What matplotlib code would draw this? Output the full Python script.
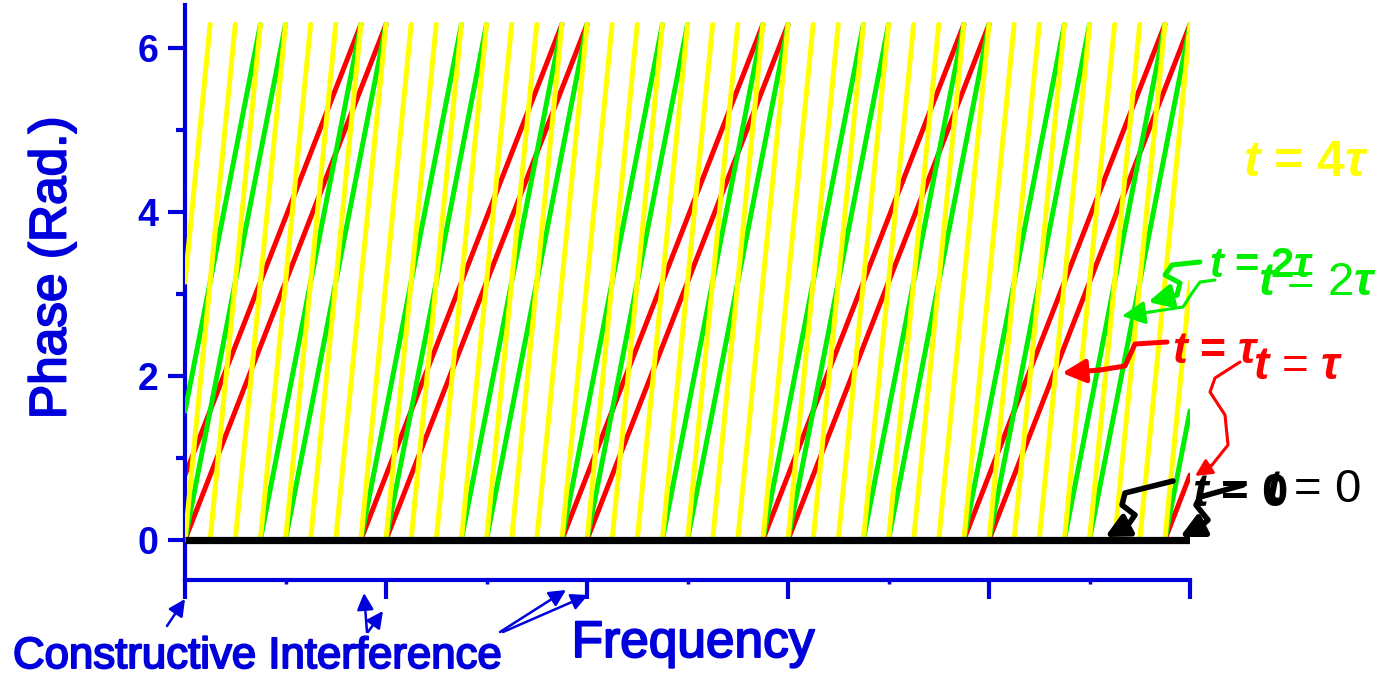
import numpy as np
import matplotlib
matplotlib.use('Agg')
import matplotlib.pyplot as plt
import matplotlib.patheffects as pe
from matplotlib.lines import Line2D
from matplotlib.patches import FancyArrowPatch
from matplotlib.ticker import MultipleLocator

# ---------- data ----------

TWO_PI = 2 * np.pi
F_MIN, F_MAX = 0.0, 5.0

# frequencies where each sawtooth drops back to phase 0
# second copy of every curve is shifted by 1/8 of a frequency unit
red_resets = [0, 1, 2, 3, 4]
red_resets_shift = [0.875, 1.875, 2.875, 3.875, 4.875]
green_resets = [0, 0.5, 1, 1.5, 2, 2.5, 3, 3.5, 4, 4.5]
green_resets_shift = [0.375, 0.875, 1.375, 1.875, 2.375, 2.875, 3.375, 3.875, 4.375, 4.875]
yellow_resets = [0, 0.25, 0.5, 0.75, 1, 1.25, 1.5, 1.75, 2, 2.25, 2.5, 2.75, 3, 3.25,
                 3.5, 3.75, 4, 4.25, 4.5, 4.75]
yellow_resets_shift = [0.125, 0.375, 0.625, 0.875, 1.125, 1.375, 1.625, 1.875, 2.125,
                       2.375, 2.625, 2.875, 3.125, 3.375, 3.625, 3.875, 4.125, 4.375,
                       4.625, 4.875]

# phase at the left / right edge of the axis for each copy
red_edges = (0.0, TWO_PI)
red_edges_shift = (0.79, 0.79)
green_edges = (0.0, TWO_PI)
green_edges_shift = (1.57, 1.57)
yellow_edges = (0.0, TWO_PI)
yellow_edges_shift = (3.14, 3.14)

black_freq = [0, 5]
black_phase = [0, 0]

BLUE = '#0000dc'
RED = '#ff0000'
GREEN = '#00ee00'
YELLOW = '#ffff00'
W, H = 1379, 675


def sawtooth(resets, edges):
    xs, ys = [F_MIN], [edges[0]]
    for r in resets:
        if r <= F_MIN:
            continue
        xs += [r, np.nan, r]
        ys += [TWO_PI, np.nan, 0.0]
    xs.append(F_MAX)
    ys.append(edges[1])
    return xs, ys


def px(x, y):
    return x / W, 1 - y / H


plt.rcParams['mathtext.fontset'] = 'custom'
plt.rcParams['mathtext.it'] = 'Liberation Sans:italic:bold'
plt.rcParams['mathtext.rm'] = 'Liberation Sans'

fig = plt.figure(figsize=(W / 100, H / 100), dpi=100)
ax = fig.add_axes([185 / W, 1 - 580 / H, 1005 / W, 575 / H])

lw = 3.6
for resets, edges, col, z in [(red_resets, red_edges, RED, 2),
                              (red_resets_shift, red_edges_shift, RED, 2),
                              (green_resets, green_edges, GREEN, 3),
                              (green_resets_shift, green_edges_shift, GREEN, 3),
                              (yellow_resets, yellow_edges, YELLOW, 4),
                              (yellow_resets_shift, yellow_edges_shift, YELLOW, 4)]:
    xs, ys = sawtooth(resets, edges)
    ax.plot(xs, ys, color=col, lw=lw, zorder=z, solid_capstyle='round')

ax.plot(black_freq, black_phase, color='black', lw=5.2, zorder=5, solid_capstyle='butt')

ax.set_xlim(F_MIN, F_MAX)
ax.set_ylim(-0.49, 6.52)
for s in ['top', 'right']:
    ax.spines[s].set_visible(False)
for s in ['left', 'bottom']:
    ax.spines[s].set_color(BLUE)
    ax.spines[s].set_linewidth(3)

ax.xaxis.set_major_locator(MultipleLocator(1))
ax.xaxis.set_minor_locator(MultipleLocator(0.5))
ax.yaxis.set_major_locator(MultipleLocator(2))
ax.yaxis.set_minor_locator(MultipleLocator(1))
ax.set_xticklabels([])
ax.tick_params(axis='x', which='major', length=14, width=3, color=BLUE)
ax.tick_params(axis='x', which='minor', length=3, width=2.5, color=BLUE)
ax.tick_params(axis='y', which='major', length=12, width=3, color=BLUE, pad=7,
               labelcolor=BLUE, labelsize=27)
ax.tick_params(axis='y', which='minor', length=6.5, width=3, color=BLUE)
for t in ax.get_yticklabels():
    t.set_fontweight('bold')
    t.set_fontfamily('Liberation Sans')

fat = [pe.withStroke(linewidth=1.4, foreground=BLUE)]
fig.text(*px(52, 268), 'Phase (Rad.)', rotation=90, ha='center', va='center',
         color=BLUE, fontsize=37, family='Liberation Sans', path_effects=fat)
fig.text(*px(693, 657), 'Frequency', ha='center', va='baseline',
         color=BLUE, fontsize=37, family='Liberation Sans', path_effects=fat)
fig.text(*px(13, 668), 'Constructive Interference', ha='left', va='baseline',
         color=BLUE, fontsize=31.5, family='Liberation Sans', path_effects=fat)


def label(x, y, s, col, size, weight='bold'):
    fig.text(*px(x, y), s, ha='center', va='center', color=col, fontsize=size,
             fontweight=weight, family='Liberation Sans')


label(1306, 163, r'$t$ = 4$\tau$', YELLOW, 36)
label(1262, 266, r'$t$ = 2$\tau$', GREEN, 30)
label(1318, 283, r'$t$ = 2$\tau$', GREEN, 34, 'normal')
label(1216, 352, r'$t$ = $\tau$', RED, 32)
label(1298, 367, r'$t$ = $\tau$', RED, 33, 'normal')
label(1240, 494, r'$t$ = 0', 'black', 34)
label(1313, 490, r'$t$ = 0', 'black', 34, 'normal')


def squiggle(pts, col, width, head=14):
    xs = [p[0] / W for p in pts[:-1]]
    ys = [1 - p[1] / H for p in pts[:-1]]
    fig.add_artist(Line2D(xs, ys, transform=fig.transFigure, color=col, lw=width,
                          solid_capstyle='round', solid_joinstyle='round'))
    fig.add_artist(FancyArrowPatch(
        px(*pts[-2]), px(*pts[-1]), transform=fig.transFigure,
        arrowstyle=f'-|>,head_length={head / 20:.2f},head_width={head / 40:.2f}',
        color=col, lw=width, mutation_scale=20, shrinkA=0, shrinkB=0))


squiggle([(1200, 262), (1172, 265), (1165, 275), (1180, 283), (1177, 295), (1148, 302)],
         GREEN, 3.6)
squiggle([(1215, 280), (1200, 282), (1192, 293), (1183, 307), (1150, 312), (1122, 316)],
         GREEN, 2.2)
squiggle([(1167, 342), (1135, 344), (1130, 355), (1125, 366), (1100, 370), (1062, 373)],
         RED, 3.6)
squiggle([(1240, 362), (1215, 378), (1210, 392), (1225, 415), (1228, 445), (1212, 465),
          (1195, 476)], RED, 2.2, head=10)
squiggle([(1173, 481), (1125, 493), (1122, 505), (1135, 515), (1128, 525), (1105, 537)],
         'black', 4)
squiggle([(1243, 485), (1200, 497), (1196, 505), (1208, 520), (1200, 527), (1180, 537)],
         'black', 4)

squiggle([(167, 626), (185, 599)], BLUE, 1.8, head=10)
squiggle([(367, 632), (364, 593)], BLUE, 1.8, head=10)
squiggle([(368, 632), (383, 611)], BLUE, 1.8, head=10)
squiggle([(500, 632), (566, 590)], BLUE, 1.8, head=10)
squiggle([(503, 632), (588, 595)], BLUE, 1.8, head=10)

fig.savefig('out.png', dpi=100)
